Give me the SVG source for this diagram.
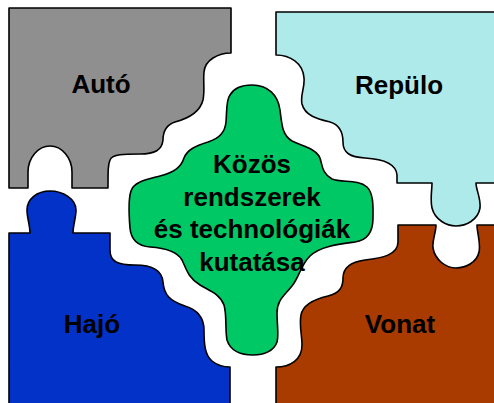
<svg xmlns="http://www.w3.org/2000/svg" width="494" height="403" viewBox="0 0 494 403">
<style>
.p{stroke:#000;stroke-width:1.6;stroke-linejoin:round}
.t{font-family:"Liberation Sans",Arial,sans-serif;font-weight:bold;font-size:26px;fill:#000;text-anchor:middle}
</style>
<rect width="494" height="403" fill="#fff"/>
<g id="auto">
<path class="p" fill="#8F8F8F" d="M9,8 H231 V53 C218,53 205,60 204,72 C203,82 205,90 203,100 C200,112 190,118 175,122 C166,125 163,132 163,140 C162,150 155,154 140,154 C125,154 112,154 110,160 C108,165 108,170 108,188 H72 V172 C72,158 62,146 50,146 C38,146 28,158 28,172 V188 H9 Z"/>
<text class="t" x="101" y="93">Autó</text>
</g>
<g id="vonat">
<path class="p" fill="#A93A00" d="M276,410 V367 C290,367 302,360 302,345 C302,335 299,325 301,315 C303,304 315,299 328,296 C340,293 343,287 343,278 C343,268 350,262 365,260 C382,258 398,255 398,242 V225 H436 C436,233 432,240 433,248 C435,260 446,268 456,268 C466,268 477,262 479,252 C481,243 477,233 477,225 H500 V410 Z"/>
<text class="t" x="400" y="333">Vonat</text>
</g>
<g id="repulo">
<path class="p" fill="#AFEAEA" d="M500,12 H276 V55 C290,55 303,63 304,78 C305,88 300,95 302,104 C305,116 318,119 330,122 C340,125 343,132 343,142 C343,153 350,157 365,158 C382,159 396,163 397,175 V183 H432 C432,190 430,200 432,208 C435,220 447,226 456,226 C466,226 478,220 480,208 C481,198 476,190 476,183 H500 Z"/>
<text class="t" x="399" y="94">Repülo</text>
</g>
<g id="hajo">
<path class="p" fill="#0232C8" d="M9,410 V233 H30 C30,225 27,218 27,210 C27,199 37,191 50,191 C63,191 76,199 76,210 C76,218 73,225 73,233 H110 V250 C110,262 118,265 135,265 C152,265 162,270 163,282 C164,295 170,301 185,306 C198,310 204,318 204,330 C204,345 205,355 212,361 C218,366 224,367 230,367 V410 Z"/>
<text class="t" x="92" y="333">Hajó</text>
</g>
<g id="kozos">
<path class="p" fill="#00C864" d="M252,85 C268,85 278,95 280,110 C282,125 282,135 292,141 C302,146 314,148 319,156 C323,163 320,172 332,179 C342,183 358,179 367,187 C374,194 373,208 373,218 C373,230 369,240 355,242 C340,244 320,246 310,256 C300,266 300,276 292,286 C284,296 277,300 277,313 C277,325 279,335 277,342 C274,351 264,355 253,355 C240,355 230,350 227,340 C225,330 227,315 224,305 C220,294 210,291 200,285 C188,278 186,268 182,260 C177,251 165,248 150,247 C138,246 131,240 130,228 C129,216 128,200 131,191 C134,182 145,180 160,176 C175,172 181,167 184,158 C187,150 195,146 208,142 C220,138 225,132 226,122 C227,110 226,100 230,95 C234,88 242,85 252,85 Z"/>
<text class="t" x="252" y="173">Közös</text>
<text class="t" x="252" y="205.5">rendszerek</text>
<text class="t" x="252" y="238">és technológiák</text>
<text class="t" x="252" y="270.5">kutatása</text>
</g>
<g id="connectors"/>
</svg>
